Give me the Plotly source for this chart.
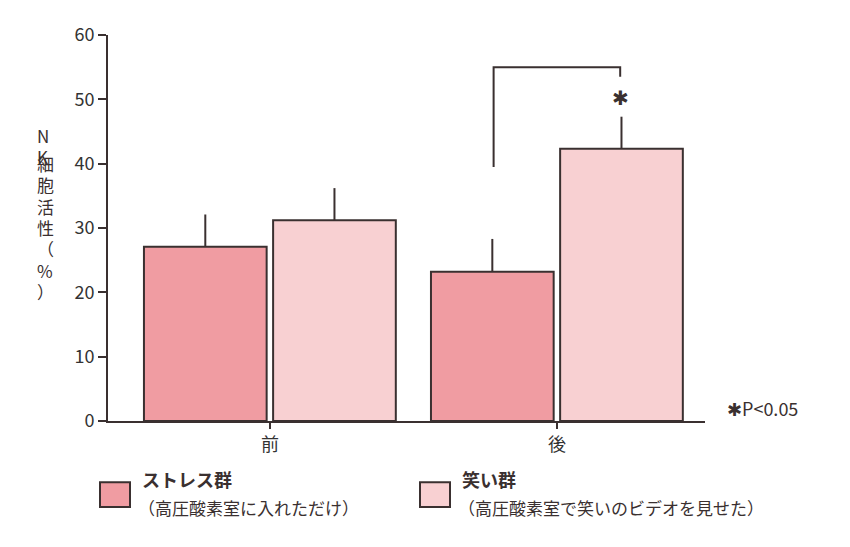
import plotly.graph_objects as go

groups = ["前", "後"]
stress = [27.1, 23.2]
stress_err = [5.0, 5.1]
laugh = [31.2, 42.3]
laugh_err = [5.0, 5.0]
yticks = [0, 10, 20, 30, 40, 50, 60]
ylabel_chars = ["N", "K", "細", "胞", "活", "性", "（", "%", "）"]
series_names = ["ストレス群", "笑い群"]
series_notes = ["（高圧酸素室に入れただけ）", "（高圧酸素室で笑いのビデオを見せた）"]
sig_y = [39.5, 55.0, 53.5]
sig_label = "✱"
p_note = "✱P<0.05"

c1, c2, edge = "#f09ca2", "#f8d0d2", "#3a3030"
font = "Noto Sans CJK JP"
xs = [0, 1]
L, T, PW, PH = 100, 23, 597, 390

fig = go.Figure()
for vals, errs, col, nm in [(stress, stress_err, c1, series_names[0]), (laugh, laugh_err, c2, series_names[1])]:
    fig.add_bar(x=xs, y=vals, name=nm, marker=dict(color=col, line=dict(color=edge, width=2)),
                error_y=dict(type="data", symmetric=False, array=errs, arrayminus=[0, 0],
                             color=edge, thickness=2, width=0), showlegend=False)

fig.update_layout(
    width=850, height=547, barmode="group", bargap=0.1, bargroupgap=0.05,
    margin=dict(l=L, r=850 - L - PW, t=T, b=547 - T - PH),
    plot_bgcolor="white", paper_bgcolor="white",
    font=dict(family=font, size=18, color="#333"),
    xaxis=dict(range=[-0.564, 1.516], tickvals=xs, ticktext=groups, showline=True,
               linecolor=edge, linewidth=2, ticks="outside", tickcolor=edge, ticklen=6, tickwidth=2),
    yaxis=dict(range=[0, 60], tickvals=yticks, showline=True, linecolor=edge, linewidth=2,
               ticks="outside", tickcolor=edge, ticklen=8, tickwidth=2, showgrid=False, zeroline=False),
)
g = 0.9 / 2
off = g / 2
fig.add_shape(type="path", xref="x", yref="y",
              path=f"M {1-off*0.98},{sig_y[0]} L {1-off*0.98},{sig_y[1]} L {1+off*0.98},{sig_y[1]} L {1+off*0.98},{sig_y[2]}",
              line=dict(color=edge, width=2))
fig.add_annotation(x=1 + off * 0.98, y=sig_y[2] - 3.0, xref="x", yref="y", text=sig_label,
                   showarrow=False, font=dict(size=20, color=edge))
fig.add_annotation(x=1.0, xref="paper", xanchor="left", xshift=20, y=2, yref="y", text=p_note,
                   showarrow=False, font=dict(size=18, color=edge))
# vertical y-axis title, one character per row
for i, ch in enumerate(ylabel_chars):
    py = 118 + i * 21.5
    fig.add_annotation(x=(35 - 8 - L) / PW, y=(T + PH - (py - 8)) / PH, xref="paper", yref="paper",
                       text=ch, showarrow=False, font=dict(size=17, color=edge))
# legend
for i, (col, nm, nt) in enumerate(zip([c1, c2], series_names, series_notes)):
    x0 = 100 + i * 320 - 8
    def px(x): return (x - L) / PW
    def py(y): return (T + PH - (y - 8)) / PH
    fig.add_shape(type="rect", xref="paper", yref="paper",
                  x0=px(x0), x1=px(x0 + 30), y0=py(508), y1=py(483),
                  fillcolor=col, line=dict(color=edge, width=2))
    fig.add_annotation(x=px(x0 + 40), y=py(495), xref="paper", yref="paper",
                       xanchor="left", text=f"<b>{nm}</b>", showarrow=False, font=dict(size=18, color=edge))
    fig.add_annotation(x=px(x0 + 36), y=py(523), xref="paper", yref="paper",
                       xanchor="left", text=nt, showarrow=False, font=dict(size=17, color=edge))
fig.write_html("out.html")
